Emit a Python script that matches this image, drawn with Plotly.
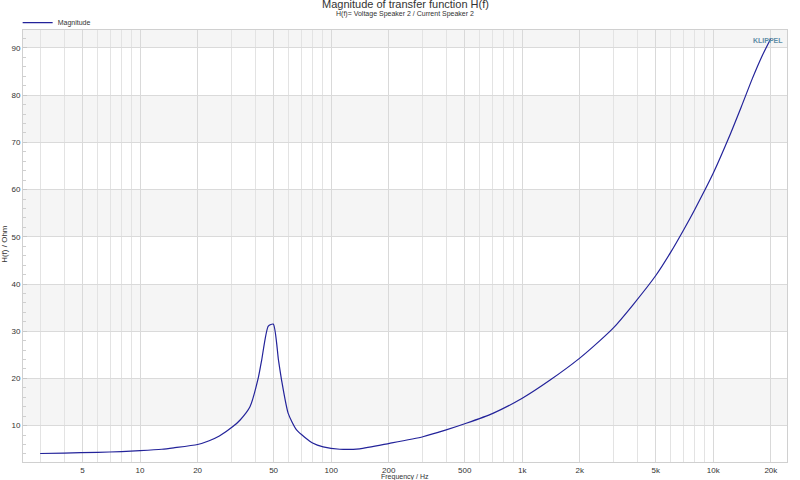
import plotly.graph_objects as go
import math

# ---- data ----
freq_hz = [3, 4, 6, 8, 10, 13, 15, 20, 23, 26, 30.6, 33.4, 37.6, 41.5, 43.3,
           46.9, 49.8, 53, 55, 59.6, 65.9, 80.5, 90.8, 111, 141, 202, 302,
           400, 509, 702, 1000, 1393, 2000, 2550, 3000, 3800, 5000, 6000,
           7000, 8000, 10000, 12000, 14000, 16000, 18000, 20000]
magnitude_ohm = [4.1, 4.2, 4.35, 4.5, 4.7, 5.0, 5.3, 6.0, 6.8, 7.8, 9.8, 11.2,
                 14.0, 20.0, 23.9, 31.1, 31.5, 23.9, 19.7, 12.6, 9.1,
                 6.25, 5.5, 5.0, 5.1, 6.25, 7.65, 9.1, 10.5, 12.6, 15.8, 19.6,
                 24.3, 28.0, 30.7, 35.6, 41.8, 46.8, 51.5, 55.8, 63.5, 70.8,
                 77.5, 83.5, 88.3, 92.0]

x_tick_vals = [5, 10, 20, 50, 100, 200, 500, 1000, 2000, 5000, 10000, 20000]
x_tick_text = ["5", "10", "20", "50", "100", "200", "500", "1k", "2k", "5k", "10k", "20k"]
y_tick_vals = [10, 20, 30, 40, 50, 60, 70, 80, 90]
band_edges = [(10, 20), (30, 40), (50, 60), (70, 80), (90, 100)]

grid_freqs = [m * 10 ** e for e in range(0, 5) for m in range(1, 10)
              if 3 <= m * 10 ** e <= 20000]

FONT = "Liberation Sans, Arial, sans-serif"
LINE = "#23239a"

fig = go.Figure()
fig.add_trace(go.Scatter(x=freq_hz, y=magnitude_ohm, mode="lines",
                         name="Magnitude",
                         line=dict(color=LINE, width=1.2, shape="spline",
                                   smoothing=0.6)))

shapes = []
for lo, hi in band_edges:
    shapes.append(dict(type="rect", xref="paper", yref="y", x0=0, x1=1,
                       y0=lo, y1=hi, fillcolor="#f5f5f5", line_width=0,
                       layer="below"))

fig.update_layout(
    width=800, height=480,
    margin=dict(l=23, r=13, t=30, b=18, autoexpand=False),
    paper_bgcolor="white", plot_bgcolor="white",
    font=dict(family=FONT, size=8, color="#333"),
    shapes=shapes,
    showlegend=True,
    legend=dict(x=-0.007, y=1.017, xanchor="left", yanchor="middle",
                orientation="h", font=dict(size=7, color="#333"),
                bgcolor="rgba(0,0,0,0)", itemwidth=30,
                tracegroupgap=0),
    xaxis=dict(type="log", range=[math.log10(2.44), math.log10(24300)],
               tickvals=x_tick_vals, ticktext=x_tick_text,
               showgrid=True, gridcolor="#d9d9d9", gridwidth=1,
               ticks="", showline=True, linecolor="#d0d0d0", mirror=True,
               tickfont=dict(size=8, color="#333"), zeroline=False,
               automargin=False,
               minor=dict(tickvals=grid_freqs, showgrid=True,
                          gridcolor="#e3e3e3", gridwidth=1, ticks="")),
    yaxis=dict(range=[2.3, 93.8], tickvals=y_tick_vals,
               showgrid=True, gridcolor="#dadada", gridwidth=1,
               ticks="inside", ticklen=4, tickcolor="#c8c8c8",
               showline=True, linecolor="#d0d0d0", mirror=True,
               tickfont=dict(size=8, color="#333"), zeroline=False,
               automargin=False,
               minor=dict(dtick=2, ticks="inside", ticklen=3,
                          tickcolor="#cfcfcf", showgrid=False)),
    annotations=[
        dict(text="Magnitude of transfer function H(f)", xref="paper",
             yref="paper", x=0.5, y=1, yshift=26, xanchor="center",
             yanchor="middle", showarrow=False,
             font=dict(size=11, color="#333")),
        dict(text="H(f)= Voltage Speaker 2 / Current Speaker 2", xref="paper",
             yref="paper", x=0.5, y=1, yshift=16, xanchor="center",
             yanchor="middle", showarrow=False,
             font=dict(size=7, color="#333")),
        dict(text="H(f) / Ohm", textangle=-90, xref="paper", yref="paper",
             x=0, xshift=-18, y=0.505, xanchor="center", yanchor="middle",
             showarrow=False, font=dict(size=8, color="#333")),
        dict(text="Frequency / Hz", xref="paper", yref="paper", x=0.5,
             y=0, yshift=-15, xanchor="center", yanchor="middle",
             showarrow=False, font=dict(size=7, color="#333")),
        dict(text="<b>KLIPPEL</b>", xref="paper", yref="paper", x=1,
             xshift=-2, y=1, yshift=-10, xanchor="right", yanchor="middle",
             showarrow=False, font=dict(size=7, color="#5f8ea6")),
    ],
)

fig.write_html("out.html", config={"displayModeBar": False},
               post_script="document.body.style.margin='0px';")
